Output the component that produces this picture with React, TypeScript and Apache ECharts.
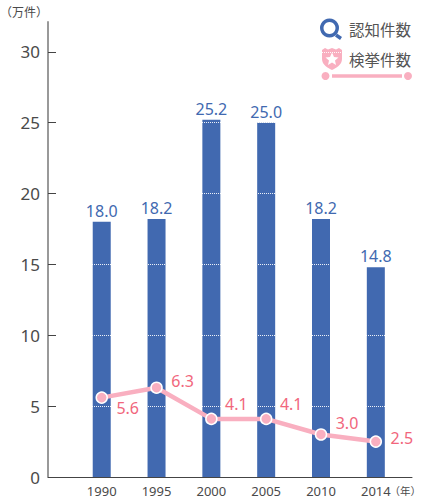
import React, { useEffect, useRef } from "react";
import * as echarts from "echarts";

const categories = ["1990", "1995", "2000", "2005", "2010", "2014"];
const recognized = [18.0, 18.2, 25.2, 25.0, 18.2, 14.8];
const cleared = [5.6, 6.3, 4.1, 4.1, 3.0, 2.5];
const yTicks = [0, 5, 10, 15, 20, 25, 30];
const gridLines = [5, 10, 15, 20, 25, 30];
const legendNames = ["認知件数", "検挙件数"];
const unitLabels = ["（万件）", "（年）"];
const labelOffsets = [[26, 10], [26, -7], [25, -15], [25, -15], [26, -11], [26, -4]];

const BLUE = "#4169b0";
const PINK = "#f9afc0";
const RED = "#f1667c";
const TEXT = "#4a4a4a";
const FONT = '"Noto Sans", "Noto Sans CJK JP", sans-serif';
const CJK = '"Noto Sans CJK JP", sans-serif';

echarts.graphic.registerShape(
  "shield",
  echarts.graphic.extendPath(
    "M0 2 L3 0 L6 1.5 L10 0 L14 1.5 L17 0 L20 2 L20 11 C20 17 14 20 10 22 C6 20 0 17 0 11 Z",
    {}
  )
);

export default function App() {
  const ref = useRef<HTMLDivElement>(null);
  useEffect(() => {
    const chart = echarts.init(ref.current!, undefined, { renderer: "svg" });
    const idx = categories.map((_, i) => i);
    chart.setOption({
      animation: false,
      textStyle: { fontFamily: FONT },
      grid: { left: 48, right: 9, top: 22, bottom: 23, outerBoundsMode: "none" },
      xAxis: {
        type: "value",
        min: -0.98,
        max: 5.66,
        splitLine: { show: false },
        axisLine: { show: true, onZero: false, lineStyle: { color: "#444", width: 1 } },
        axisTick: { show: false },
        axisLabel: {
          customValues: idx,
          formatter: (v: number) => categories[Math.round(v)],
          color: TEXT,
          fontSize: 13,
          margin: 7,
          fontFamily: FONT,
        },
      },
      yAxis: {
        type: "value",
        min: 0,
        max: 32.1,
        z: 10,
        splitLine: { show: false },
        axisLine: { show: true, onZero: false, lineStyle: { color: "#999", width: 2 } },
        axisTick: { show: true, inside: true, length: 8, customValues: yTicks, lineStyle: { color: "#444", width: 1 } },
        axisLabel: { customValues: yTicks, color: TEXT, fontSize: 17, margin: 8, fontFamily: FONT },
      },
      series: [
        {
          type: "bar",
          name: legendNames[0],
          barWidth: 18,
          z: 2,
          itemStyle: { color: BLUE },
          data: recognized.map((v, i) => [i, v]),
          label: {
            show: true,
            position: "top",
            distance: 3,
            color: BLUE,
            fontSize: 16,
            fontFamily: FONT,
            formatter: (p: any) => p.value[1].toFixed(1),
          },
          markLine: {
            silent: true,
            symbol: "none",
            z: 3,
            label: { show: false },
            lineStyle: { color: "#ffffff", type: [1, 1], width: 1, opacity: 0.9 },
            data: gridLines.map((v) => ({ yAxis: v })),
          },
        },
        {
          type: "line",
          name: legendNames[1],
          z: 5,
          symbol: "circle",
          symbolSize: 11,
          lineStyle: { color: PINK, width: 4.5 },
          itemStyle: { color: PINK, borderColor: "#fff", borderWidth: 1.5 },
          data: cleared.map((v, i) => ({
            value: [i, v],
            label: {
              show: true,
              position: "inside",
              offset: labelOffsets[i],
              color: RED,
              fontSize: 16,
              fontFamily: FONT,
              formatter: v.toFixed(1),
            },
          })),
        },
      ],
      graphic: [
        { type: "text", x: 0, y: 11, style: { text: unitLabels[0], fill: TEXT, fontSize: 12, fontFamily: CJK, verticalAlign: "middle" } },
        { type: "text", x: 421, y: 490, style: { text: unitLabels[1], fill: TEXT, fontSize: 10.5, fontFamily: CJK, align: "right", verticalAlign: "middle" } },
        { type: "ring", shape: { cx: 329.5, cy: 28, r: 9.5, r0: 6 }, style: { fill: BLUE } },
        { type: "line", shape: { x1: 336, y1: 35, x2: 341, y2: 38.5 }, style: { stroke: BLUE, lineWidth: 3.5 } },
        { type: "text", x: 349, y: 29, style: { text: legendNames[0], fill: "#555", fontSize: 15.5, fontFamily: CJK, verticalAlign: "middle" } },
        { type: "shield", x: 322, y: 48, style: { fill: PINK } },
        {
          type: "polygon",
          shape: { points: [[332, 52.5], [334, 57], [338.5, 57.5], [335, 60.5], [336, 65], [332, 62.6], [328, 65], [329, 60.5], [325.5, 57.5], [330, 57]] },
          style: { fill: "#fff" },
        },
        { type: "text", x: 349, y: 59, style: { text: legendNames[1], fill: "#555", fontSize: 15.5, fontFamily: CJK, verticalAlign: "middle" } },
        { type: "circle", shape: { cx: 325.5, cy: 76, r: 4 }, style: { fill: PINK } },
        { type: "line", shape: { x1: 332, y1: 76, x2: 402, y2: 76 }, style: { stroke: PINK, lineWidth: 3.5 } },
        { type: "circle", shape: { cx: 408, cy: 76, r: 4 }, style: { fill: PINK } },
      ],
    });
    return () => chart.dispose();
  }, []);
  return <div ref={ref} style={{ position: "absolute", left: 0, top: 0, width: 421, height: 500 }} />;
}
